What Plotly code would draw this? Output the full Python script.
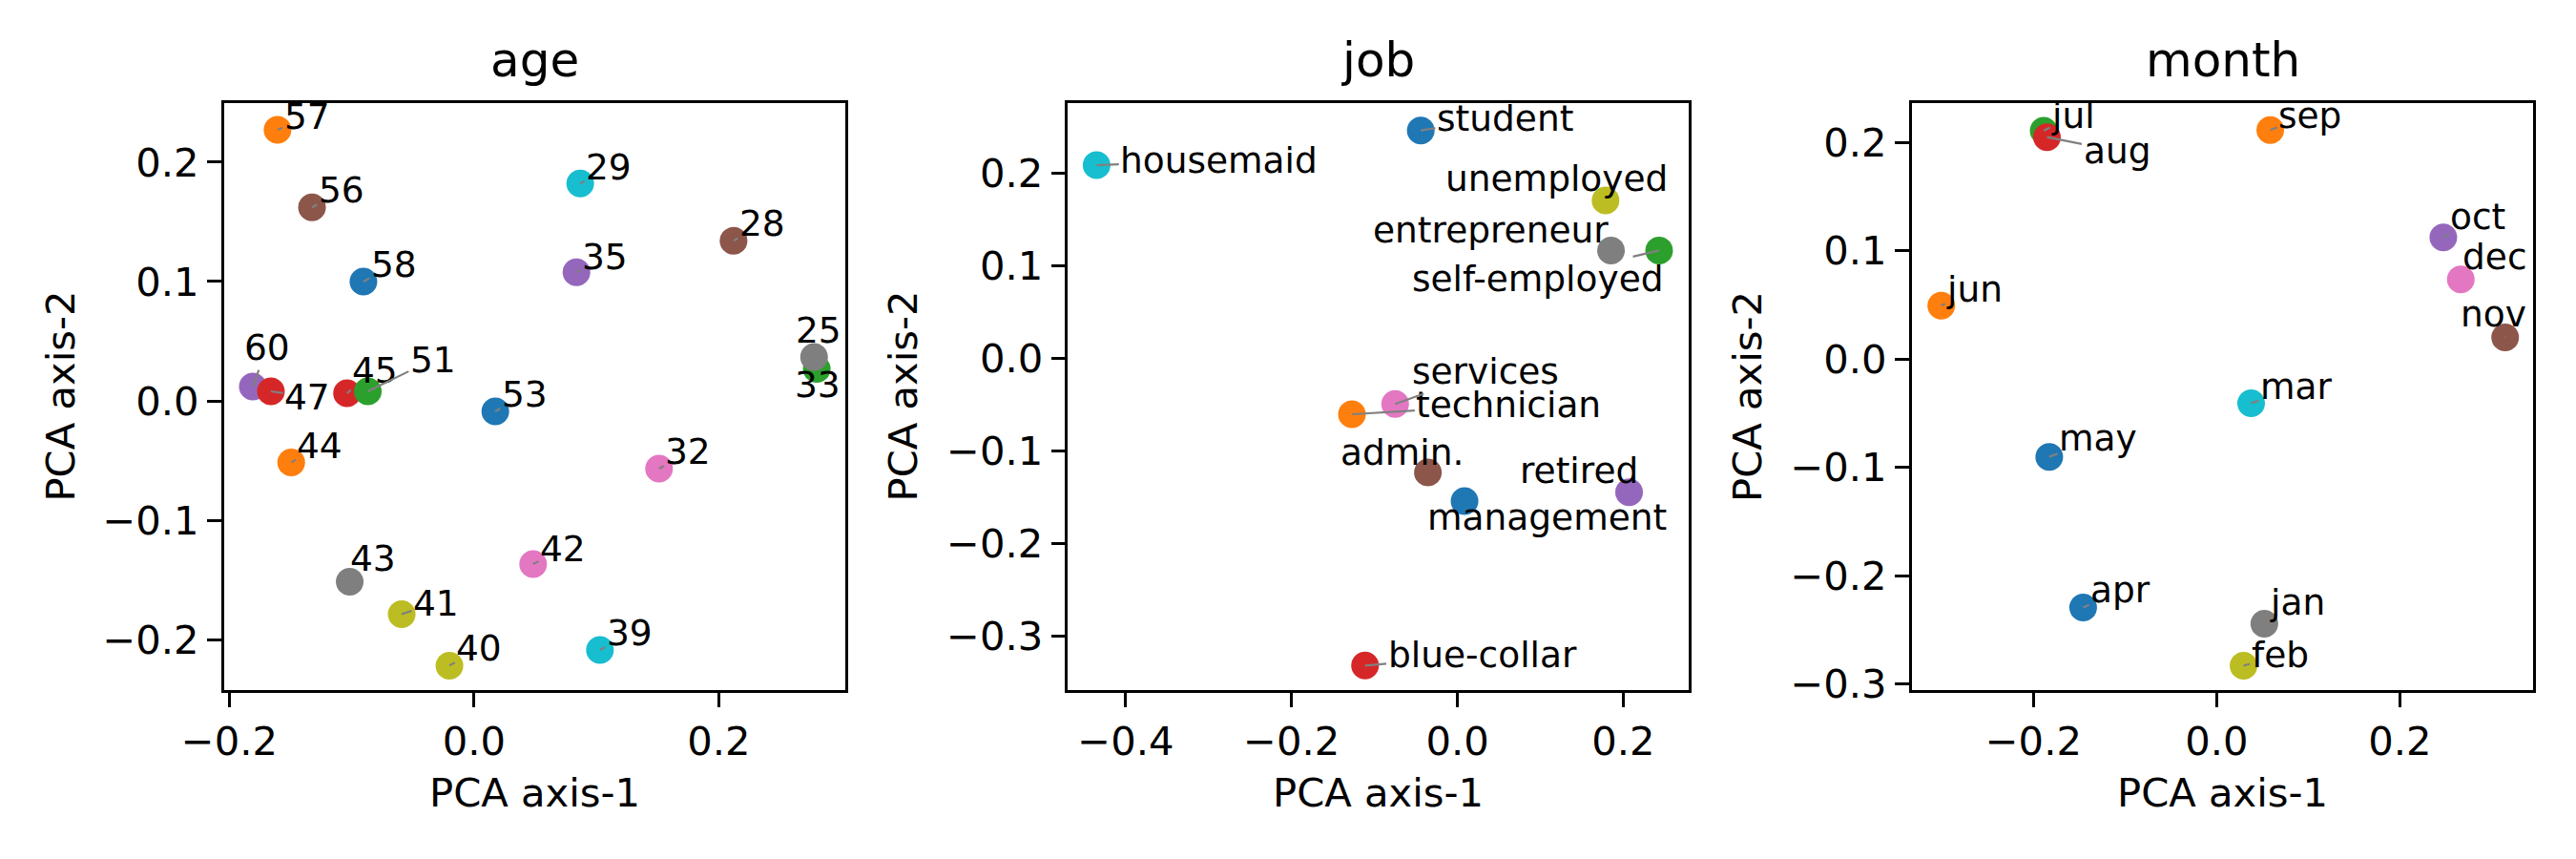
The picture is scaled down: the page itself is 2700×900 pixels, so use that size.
import plotly.graph_objects as go

# PCA coordinates
age_labels = ['58', '57', '33', '45', '60', '56', '32', '25', '41', '29',
              '53', '44', '51', '47', '35', '28', '42', '43', '40', '39']
age_pc1 = [-0.0904, -0.1606, 0.2801, -0.1038, -0.1808, -0.1324, 0.1512, 0.2779, -0.0591, 0.0868,
           0.0174, -0.1494, -0.0868, -0.1660, 0.0837, 0.2121, 0.0483, -0.1016, -0.0201, 0.1029]
age_pc2 = [0.1000, 0.2272, 0.0267, 0.0064, 0.0120, 0.1621, -0.0568, 0.0368, -0.1787, 0.1821,
           -0.0088, -0.0515, 0.0080, 0.0080, 0.1077, 0.1341, -0.1368, -0.1515, -0.2219, -0.2088]

job_labels = ['student', 'technician', 'self-employed', 'blue-collar', 'retired', 'admin.',
              'services', 'entrepreneur', 'unemployed', 'housemaid', 'management']
job_pc1 = [-0.0442, -0.1272, 0.2432, -0.1114, 0.2070, -0.0356, -0.0751, 0.1852, 0.1786, -0.4351, 0.0086]
job_pc2 = [0.2464, -0.0601, 0.1168, -0.3316, -0.1443, -0.1230, -0.0491, 0.1168, 0.1708, 0.2089, -0.1540]

month_labels = ['may', 'jun', 'jul', 'aug', 'oct', 'nov', 'dec', 'jan', 'feb', 'mar', 'apr', 'sep']
month_pc1 = [-0.1827, -0.3006, -0.1888, -0.1852, 0.2475, 0.3150, 0.2666, 0.0521, 0.0294, 0.0377, -0.1457, 0.0586]
month_pc2 = [-0.0902, 0.0493, 0.2109, 0.2050, 0.1125, 0.0200, 0.0737, -0.2443, -0.2831, -0.0408, -0.2294, 0.2115]

age_xticks = [-0.2, 0.0, 0.2]
age_yticks = [-0.2, -0.1, 0.0, 0.1, 0.2]
job_xticks = [-0.4, -0.2, 0.0, 0.2]
job_yticks = [-0.3, -0.2, -0.1, 0.0, 0.1, 0.2]
month_xticks = [-0.2, 0.0, 0.2]
month_yticks = [-0.3, -0.2, -0.1, 0.0, 0.1, 0.2]

# label placement (pixel offsets of each text from its point, like adjustText gave)
age_offsets = [(31.8, -17.5), (30.7, -13.5), (1.4, 16.6), (29.5, -24.5), (14.9, -40.8),
               (30.7, -18.1), (30.5, -17.7), (4.3, -28.2), (35.9, -11.6), (30.1, -17.3),
               (30.7, -18.0), (30.2, -17.6), (68.3, -33.3), (38.4, 5.5), (29.9, -16.5),
               (29.8, -18.1), (31.2, -16.0), (24.7, -24.6), (31.2, -18.1), (31.0, -17.7)]
job_offsets = [(88.3, -13.0), (164.4, -9.5), (-126.5, 30.0), (122.8, -10.9), (-52.8, -23.0),
               (-26.8, -21.0), (94.5, -34.4), (-126.3, -21.2), (-51.7, -22.6), (128.3, -4.8),
               (86.9, 17.0)]
month_offsets = [(51.4, -19.4), (35.0, -17.8), (31.0, -16.4), (73.5, 14.6), (36.5, -21.8),
                 (-11.8, -24.4), (35.3, -23.4), (35.0, -22.1), (38.1, -11.8), (47.4, -17.8),
                 (39.1, -18.4), (41.6, -15.5)]

tab10 = ['#1f77b4', '#ff7f0e', '#2ca02c', '#d62728', '#9467bd',
         '#8c564b', '#e377c2', '#7f7f7f', '#bcbd22', '#17becf']

W, H = 2700, 900
FONT = 'DejaVu Sans'
top, bottom = 107.7, 723.3

panels = [
    dict(title='age', labels=age_labels, x=age_pc1, y=age_pc2, off=age_offsets,
         xt=age_xticks, yt=age_yticks, px=(234.7, 885.7),
         xr=[-0.2044, 0.3032], yr=[-0.2426, 0.2498], ylab_x=63.1),
    dict(title='job', labels=job_labels, x=job_pc1, y=job_pc2, off=job_offsets,
         xt=job_xticks, yt=job_yticks, px=(1119.3, 1770.0),
         xr=[-0.4697, 0.2789], yr=[-0.3584, 0.2763], ylab_x=946.0),
    dict(title='month', labels=month_labels, x=month_pc1, y=month_pc2, off=month_offsets,
         xt=month_xticks, yt=month_yticks, px=(2003.7, 2655.3),
         xr=[-0.3329, 0.3458], yr=[-0.3058, 0.2367], ylab_x=1831.5),
]


def fmt(v):
    s = '%.1f' % v
    return s.replace('-', '\u2212')


fig = go.Figure()
annotations = []
layout = dict(
    width=W, height=H,
    margin=dict(l=0, r=0, t=0, b=0),
    paper_bgcolor='white', plot_bgcolor='white',
    showlegend=False,
    font=dict(family=FONT, color='black'),
)

for i, p in enumerate(panels):
    n = '' if i == 0 else str(i + 1)
    xa, ya = 'x' + n, 'y' + n
    fig.add_trace(go.Scatter(
        x=p['x'], y=p['y'], mode='markers', xaxis=xa, yaxis=ya,
        marker=dict(size=29, color=[tab10[k % 10] for k in range(len(p['x']))], line=dict(width=0)),
        hoverinfo='skip',
    ))
    common = dict(showline=True, linecolor='black', linewidth=3.3, mirror=True,
                  ticks='outside', ticklen=14.6, tickwidth=3.3, tickcolor='black',
                  showgrid=False, zeroline=False, automargin=False,
                  tickfont=dict(family=FONT, size=41.7, color='black'), tickmode='array')
    layout['xaxis' + n] = dict(common, domain=[p['px'][0] / W, p['px'][1] / W], range=p['xr'],
                               anchor=ya, tickvals=p['xt'], ticktext=[fmt(v) for v in p['xt']])
    layout['yaxis' + n] = dict(common, domain=[1 - bottom / H, 1 - top / H], range=p['yr'],
                               anchor=xa, tickvals=p['yt'], ticktext=[fmt(v) for v in p['yt']])

    cx = (p['px'][0] + p['px'][1]) / 2 / W
    annotations.append(dict(text=p['title'], xref='paper', yref='paper', x=cx, y=1 - 63.4 / H,
                            xanchor='center', yanchor='middle', showarrow=False,
                            font=dict(family=FONT, size=50, color='black')))
    annotations.append(dict(text='PCA axis-1', xref='paper', yref='paper', x=cx, y=1 - 830.5 / H,
                            xanchor='center', yanchor='middle', showarrow=False,
                            font=dict(family=FONT, size=41.7, color='black')))
    annotations.append(dict(text='PCA axis-2', xref='paper', yref='paper', x=p['ylab_x'] / W,
                            y=1 - (top + bottom) / 2 / H, textangle=-90,
                            xanchor='center', yanchor='middle', showarrow=False,
                            font=dict(family=FONT, size=41.7, color='black')))

    for lab, xv, yv, (dx, dy) in zip(p['labels'], p['x'], p['y'], p['off']):
        annotations.append(dict(text=lab, x=xv, y=yv, xref=xa, yref=ya,
                                showarrow=True, ax=dx, ay=dy, arrowhead=0, arrowwidth=2.2,
                                arrowcolor='gray', standoff=0,
                                font=dict(family=FONT, size=37.5, color='black')))

layout['annotations'] = annotations
fig.update_layout(**layout)
# the page body has an 8px default margin; drop it so the figure fills the window exactly
fig.write_html('out.html', config={'displayModeBar': False},
               post_script="document.body.style.margin = '0px';")
